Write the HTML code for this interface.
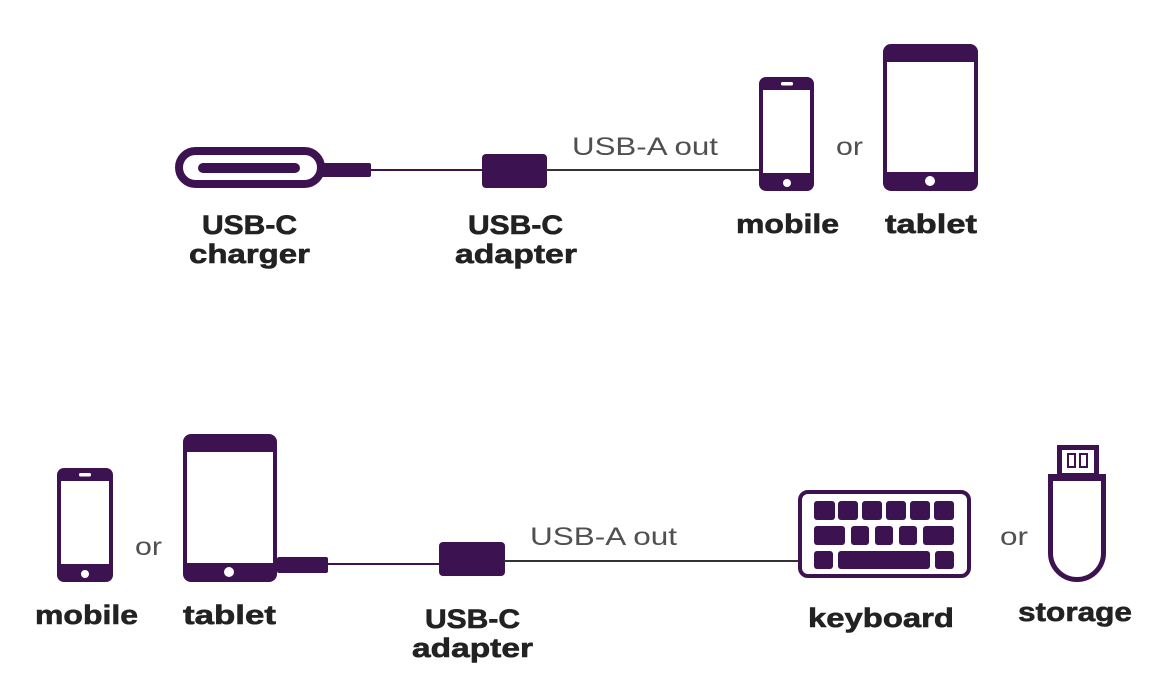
<!DOCTYPE html>
<html><head><meta charset="utf-8"><style>
html,body{margin:0;padding:0;background:#fff;}
svg{display:block;}
.lb{font-family:"Liberation Sans",sans-serif;font-weight:bold;font-size:27px;fill:#222;stroke:#222;stroke-width:0.6;}
.lt{font-family:"Liberation Sans",sans-serif;font-weight:normal;font-size:25px;fill:#505050;}
</style></head><body>
<svg width="1170" height="700" viewBox="0 0 1170 700" xmlns="http://www.w3.org/2000/svg">
<rect width="1170" height="700" fill="#fff"/>
<g fill="#3d1250">
<!-- TOP ROW -->
<rect x="179" y="151" width="142" height="33" rx="16.5" fill="none" stroke="#3d1250" stroke-width="8"/>
<rect x="198" y="163" width="102" height="10" rx="5"/>
<rect x="321" y="163" width="50" height="14" rx="2"/>
<rect x="370" y="169" width="114" height="2"/>
<rect x="482" y="154" width="65" height="34" rx="4"/>
</g>
<rect x="546" y="169" width="215" height="2" fill="#333"/>
<!-- mobile top -->
<rect x="759" y="77" width="55" height="114" rx="7" fill="#3d1250"/>
<rect x="763" y="90" width="47" height="83" fill="#fff"/>
<rect x="781" y="82" width="12" height="3.5" rx="1.5" fill="#fff"/>
<circle cx="787" cy="183" r="4" fill="#fff"/>
<!-- tablet top -->
<rect x="883" y="44" width="95" height="147" rx="8" fill="#3d1250"/>
<rect x="887" y="62" width="87" height="110" fill="#fff"/>
<circle cx="930" cy="181" r="5" fill="#fff"/>

<text class="lt" x="572" y="155" textLength="146" lengthAdjust="spacingAndGlyphs">USB-A out</text>
<text class="lt" x="836" y="155" textLength="27" lengthAdjust="spacingAndGlyphs">or</text>

<text class="lb" x="202" y="234" textLength="95" lengthAdjust="spacingAndGlyphs">USB-C</text>
<text class="lb" x="189" y="263" textLength="121" lengthAdjust="spacingAndGlyphs">charger</text>
<text class="lb" x="468" y="234" textLength="95" lengthAdjust="spacingAndGlyphs">USB-C</text>
<text class="lb" x="455" y="263" textLength="122" lengthAdjust="spacingAndGlyphs">adapter</text>
<text class="lb" x="736" y="233" textLength="103" lengthAdjust="spacingAndGlyphs">mobile</text>
<text class="lb" x="885" y="233" textLength="92" lengthAdjust="spacingAndGlyphs">tablet</text>

<!-- BOTTOM ROW -->
<rect x="57" y="468" width="56" height="114" rx="7" fill="#3d1250"/>
<rect x="61" y="481" width="48" height="83" fill="#fff"/>
<rect x="79" y="473" width="12" height="3.5" rx="1.5" fill="#fff"/>
<circle cx="85" cy="574" r="4" fill="#fff"/>
<rect x="183" y="434" width="94" height="148" rx="8" fill="#3d1250"/>
<rect x="187" y="452" width="86" height="111" fill="#fff"/>
<circle cx="229" cy="572" r="5" fill="#fff"/>
<g fill="#3d1250">
<rect x="277" y="557" width="51" height="16" rx="2"/>
<rect x="327" y="563" width="114" height="2"/>
<rect x="439" y="542" width="66" height="34" rx="4"/>
</g>
<rect x="504" y="560" width="296" height="2" fill="#333"/>
<!-- keyboard -->
<rect x="800" y="492" width="169" height="84" rx="8" fill="none" stroke="#3d1250" stroke-width="4"/>
<g fill="#3d1250">
<rect x="814" y="501" width="21" height="19" rx="3"/>
<rect x="838" y="501" width="20" height="19" rx="3"/>
<rect x="862" y="501" width="20" height="19" rx="3"/>
<rect x="886" y="501" width="20" height="19" rx="3"/>
<rect x="910" y="501" width="20" height="19" rx="3"/>
<rect x="934" y="501" width="20" height="19" rx="3"/>
<rect x="814" y="526" width="31" height="19" rx="3"/>
<rect x="851" y="526" width="18" height="19" rx="3"/>
<rect x="875" y="526" width="18" height="19" rx="3"/>
<rect x="899" y="526" width="18" height="19" rx="3"/>
<rect x="923" y="526" width="31" height="19" rx="3"/>
<rect x="814" y="551" width="19" height="18" rx="3"/>
<rect x="838" y="551" width="92" height="18" rx="3"/>
<rect x="935" y="551" width="19" height="18" rx="3"/>
</g>
<!-- storage -->
<rect x="1059.5" y="447.5" width="37" height="28" fill="none" stroke="#3d1250" stroke-width="5"/>
<rect x="1068" y="454" width="7" height="13" fill="none" stroke="#3d1250" stroke-width="2"/>
<rect x="1080" y="454" width="7" height="13" fill="none" stroke="#3d1250" stroke-width="2"/>
<path d="M1050.5,477.5 V553 A26.5,26.5 0 0 0 1103.5,553 V477.5 Z" fill="none" stroke="#3d1250" stroke-width="5"/>
<rect x="1048" y="474" width="58" height="7" fill="#3d1250"/>

<text class="lt" x="530" y="545" textLength="147" lengthAdjust="spacingAndGlyphs">USB-A out</text>
<text class="lt" x="135" y="555" textLength="27" lengthAdjust="spacingAndGlyphs">or</text>
<text class="lt" x="1000" y="545" textLength="28" lengthAdjust="spacingAndGlyphs">or</text>

<text class="lb" x="35" y="624" textLength="103" lengthAdjust="spacingAndGlyphs">mobile</text>
<text class="lb" x="183" y="624" textLength="93" lengthAdjust="spacingAndGlyphs">tablet</text>
<text class="lb" x="425" y="628" textLength="95" lengthAdjust="spacingAndGlyphs">USB-C</text>
<text class="lb" x="412" y="657" textLength="121" lengthAdjust="spacingAndGlyphs">adapter</text>
<text class="lb" x="808" y="627" textLength="146" lengthAdjust="spacingAndGlyphs">keyboard</text>
<text class="lb" x="1018" y="621" textLength="114" lengthAdjust="spacingAndGlyphs">storage</text>
</svg>
</body></html>
